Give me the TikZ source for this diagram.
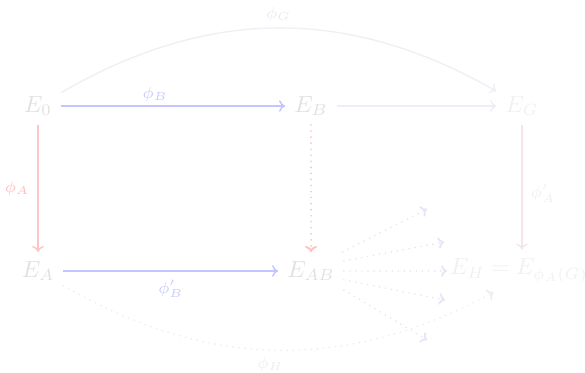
\documentclass[tikz,border=0pt]{standalone}
\usetikzlibrary{arrows.meta}
\definecolor{enode}{HTML}{E0E0E0}
\definecolor{efaint}{HTML}{F0F0F0}
\definecolor{bluearr}{HTML}{C4C4FF}
\definecolor{bluelab}{HTML}{C8C8FF}
\definecolor{redarr}{HTML}{FFC4C4}
\definecolor{redlab}{HTML}{FFBCBC}
\definecolor{reddot}{HTML}{FFC0C0}
\definecolor{faintblue}{HTML}{EEEEF8}
\definecolor{curveG}{HTML}{EFEFF6}
\definecolor{labG}{HTML}{EAEAF0}
\definecolor{faintred}{HTML}{F5E6E6}
\definecolor{labfaint}{HTML}{EEEEEE}
\definecolor{fan}{HTML}{E6E6F6}
\definecolor{curveH}{HTML}{ECECF4}
\begin{document}
\begin{tikzpicture}[x=0.43pt,y=-0.43pt,
  obj/.style={inner sep=4pt, outer sep=0pt, text=enode},
  fobj/.style={inner sep=4pt, outer sep=0pt, text=efaint},
  arr/.style={-{To[length=2.6pt,width=5pt]}, line width=0.6pt},
  dots/.style={line cap=round, dash pattern=on 0pt off 2.6pt, line width=0.8pt},
  lab/.style={inner sep=1.5pt}]
\useasboundingbox (0,0) rectangle (585,373);
\node[obj]  (e0)  at (38,106)  {$E_0$};
\node[obj]  (eb)  at (311,106) {$E_B$};
\node[fobj] (eg)  at (522,106) {$E_G$};
\node[obj]  (ea)  at (38,271)  {$E_A$};
\node[obj]  (eab) at (311,271) {$E_{AB}$};
\node[fobj] (eh)  at (519,271) {$E_H = E_{\phi_A(G)}$};
\coordinate (f1) at (427,209);
\coordinate (f2) at (444,242);
\coordinate (f3) at (447,271);
\coordinate (f4) at (445,300);
\coordinate (f5) at (427,340);
% top row
\draw[arr, bluearr] (e0) -- node[lab, pos=0.42, above, text=bluelab] {$\scriptstyle\phi_B$} (eb);
\draw[arr, faintblue] (eb) -- (eg);
\draw[arr, curveG] (e0.30) to[bend left=30] node[lab, midway, above=1pt, text=labG] {$\scriptstyle\phi_G$} (eg.150);
% verticals
\draw[arr, redarr] (e0) -- node[lab, midway, left=2pt, text=redlab] {$\scriptstyle\phi_A$} (ea);
\draw[arr, reddot, dots] (eb) -- (eab);
\draw[arr, faintred] (eg) -- node[lab, pos=0.55, right=2pt, text=labfaint] {$\scriptstyle\phi'_A$} (eg |- eh.north);
% bottom row
\draw[arr, bluearr] (ea) -- node[lab, midway, below=2pt, text=bluelab] {$\scriptstyle\phi'_B$} (eab);
\draw[arr, curveH, dots] (ea.-30) to[bend right=29] node[lab, midway, below=1pt, xshift=-3pt, text=curveH] {$\scriptstyle\phi_H$} (eh.-140);
% fan
\draw[arr, fan, dots] (eab.31) -- (f1);
\draw[arr, fan, dots] (eab.17) -- (f2);
\draw[arr, fan, dots] (eab.east) -- (f3);
\draw[arr, fan, dots] (eab.-15) -- (f4);
\draw[arr, fan, dots] (eab.-30) -- (f5);
\end{tikzpicture}
\end{document}
